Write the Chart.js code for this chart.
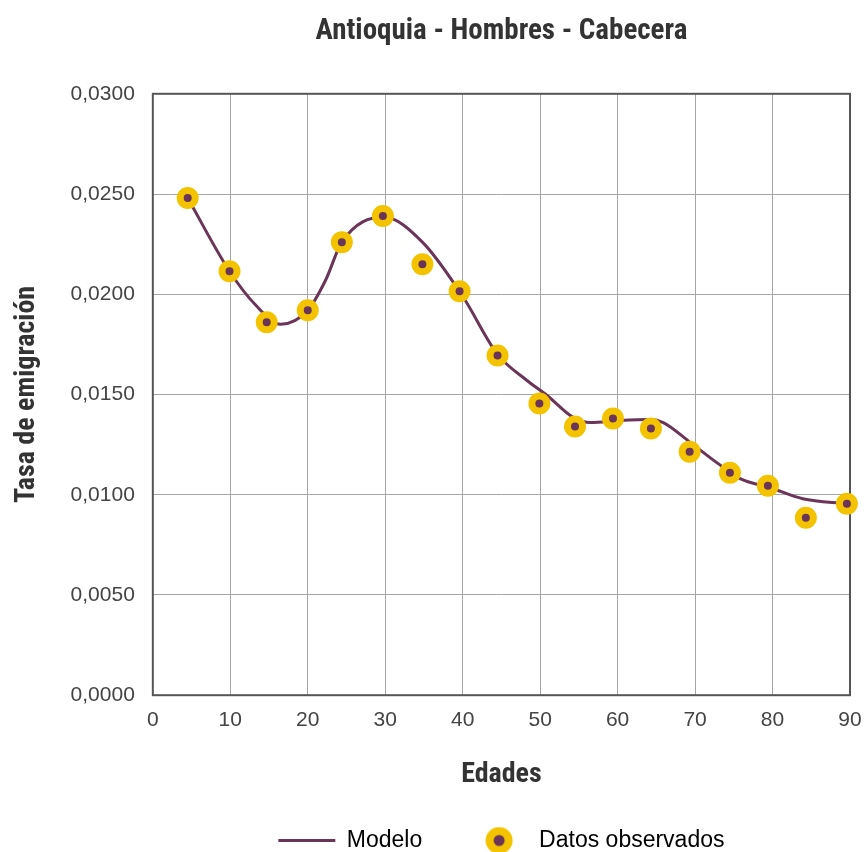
<!DOCTYPE html>
<html>
<head>
<meta charset="utf-8">
<script src="https://cdn.jsdelivr.net/npm/chart.js@4.4.1/dist/chart.umd.min.js"></script>
<style>
  html, body { margin: 0; padding: 0; background: #fff; }
  #wrap { width: 865px; height: 852px; }
</style>
</head>
<body>
<div id="wrap"><canvas id="emigChart"></canvas></div>
<script>
// observed rates by age
const obsAges = [4.5, 9.9, 14.7, 20.0, 24.4, 29.7, 34.8, 39.6, 44.5, 49.9, 54.5, 59.4, 64.3, 69.3, 74.5, 79.4, 84.3, 89.6];
const obsRates = [0.0248, 0.02115, 0.0186, 0.0192, 0.0226, 0.0239, 0.0215, 0.02015, 0.01695, 0.01455, 0.0134, 0.0138, 0.0133, 0.01215, 0.0111, 0.01045, 0.00885, 0.00955];

// fitted model curve
const modelAges = [4.5, 9.9, 13.3, 16.5, 20.0, 22.3, 24.4, 29.8, 34.8, 40.0, 44.5, 48.3, 50.9, 54.3, 56.5, 60.3, 64.2, 65.9, 69.4, 72.8, 75.8, 79.7, 83.9, 89.6];
const modelRates = [0.0248, 0.02115, 0.01945, 0.0185, 0.0192, 0.0207, 0.0226, 0.02385, 0.0226, 0.0199, 0.0170, 0.0157, 0.01495, 0.01385, 0.0136, 0.0137, 0.01375, 0.0136, 0.0126, 0.0116, 0.0108, 0.01035, 0.0098, 0.00955];

const xTicks = [0, 10, 20, 30, 40, 50, 60, 70, 80, 90];
const yTicks = [0, 0.005, 0.01, 0.015, 0.02, 0.025, 0.03];

const purple = '#6b3459';
const yellow = '#f3c300';
const condensed = "'Roboto Condensed', 'DejaVu Sans Condensed', sans-serif";
const regular = "'Liberation Sans', Arial, sans-serif";

function toPoints(xs, ys)
{
    return xs.map((x, i) => ({ x: x, y: ys[i] }));
}

// legend marker for the observed points
function dotIcon()
{
    let c = document.createElement('canvas');
    c.width = 28;
    c.height = 28;
    let g = c.getContext('2d');
    g.fillStyle = yellow;
    g.beginPath();
    g.arc(14, 14, 13.5, 0, Math.PI * 2);
    g.fill();
    g.fillStyle = purple;
    g.beginPath();
    g.arc(14, 14, 5.5, 0, Math.PI * 2);
    g.fill();
    return c;
}

// box round the plot area
const frame = {
    id: 'frame',
    beforeDatasetsDraw(chart)
    {
        let a = chart.chartArea;
        let ctx = chart.ctx;
        ctx.save();
        ctx.strokeStyle = '#555';
        ctx.lineWidth = 2;
        ctx.strokeRect(a.left, a.top, a.right - a.left, a.bottom - a.top);
        ctx.restore();
    }
};

const icon = dotIcon();

new Chart(document.getElementById('emigChart'), {
    type: 'scatter',
    data: {
        datasets: [
            {
                label: 'Modelo',
                data: toPoints(modelAges, modelRates),
                showLine: true,
                borderColor: purple,
                backgroundColor: purple,
                borderWidth: 3,
                pointRadius: 0,
                pointHoverRadius: 0,
                cubicInterpolationMode: 'monotone',
                order: 2
            },
            {
                label: 'Datos observados',
                data: toPoints(obsAges, obsRates),
                showLine: false,
                backgroundColor: purple,
                borderColor: yellow,
                pointRadius: 7.5,
                pointBorderWidth: 7,
                clip: false,
                order: 1
            }
        ]
    },
    options: {
        responsive: true,
        maintainAspectRatio: false,
        animation: false,
        layout: { padding: { left: 0, right: 4, top: 0, bottom: -10 } },
        plugins: {
            title: {
                display: true,
                text: 'Antioquia - Hombres - Cabecera',
                color: '#333',
                fullSize: false,
                font: { family: condensed, size: 29, weight: 'bold' },
                padding: { top: 14, bottom: 45 }
            },
            legend: {
                position: 'bottom',
                fullSize: false,
                labels: {
                    usePointStyle: true,
                    pointStyleWidth: 57,
                    color: '#333',
                    padding: 10,
                    font: { family: regular, size: 23 },
                    generateLabels: function (chart) {
                        return [
                            {
                                text: 'Modelo      ',
                                pointStyle: 'line',
                                strokeStyle: purple,
                                fillStyle: purple,
                                lineWidth: 3,
                                datasetIndex: 0
                            },
                            {
                                text: 'Datos observados',
                                pointStyle: icon,
                                strokeStyle: yellow,
                                fillStyle: purple,
                                lineWidth: 0,
                                datasetIndex: 1
                            }
                        ];
                    }
                }
            },
            tooltip: { enabled: false }
        },
        scales: {
            x: {
                type: 'linear',
                min: 0,
                max: 90,
                afterBuildTicks: function (axis) {
                    axis.ticks = xTicks.map(v => ({ value: v }));
                },
                afterFit: function (axis) {
                    // leave only room for half of the "90" label on the right
                    axis.paddingRight = 15;
                },
                grid: { color: '#a6a6a6', lineWidth: 1, drawTicks: false },
                border: { display: false },
                ticks: {
                    color: '#444',
                    padding: 12,
                    font: { family: regular, size: 21 }
                },
                title: {
                    display: true,
                    text: 'Edades',
                    color: '#333',
                    font: { family: condensed, size: 28, weight: 'bold' },
                    padding: { top: 14, bottom: 27 }
                }
            },
            y: {
                min: 0,
                max: 0.03,
                afterBuildTicks: function (axis) {
                    axis.ticks = yTicks.map(v => ({ value: v }));
                },
                grid: { color: '#a6a6a6', lineWidth: 1, drawTicks: false },
                border: { display: false },
                ticks: {
                    color: '#444',
                    padding: 18,
                    font: { family: regular, size: 21 },
                    callback: v => v.toFixed(4).replace('.', ',')
                },
                title: {
                    display: true,
                    text: 'Tasa de emigración',
                    color: '#333',
                    font: { family: condensed, size: 28, weight: 'bold' },
                    padding: { top: 10, bottom: 9 }
                }
            }
        }
    },
    plugins: [frame]
});
</script>
</body>
</html>
